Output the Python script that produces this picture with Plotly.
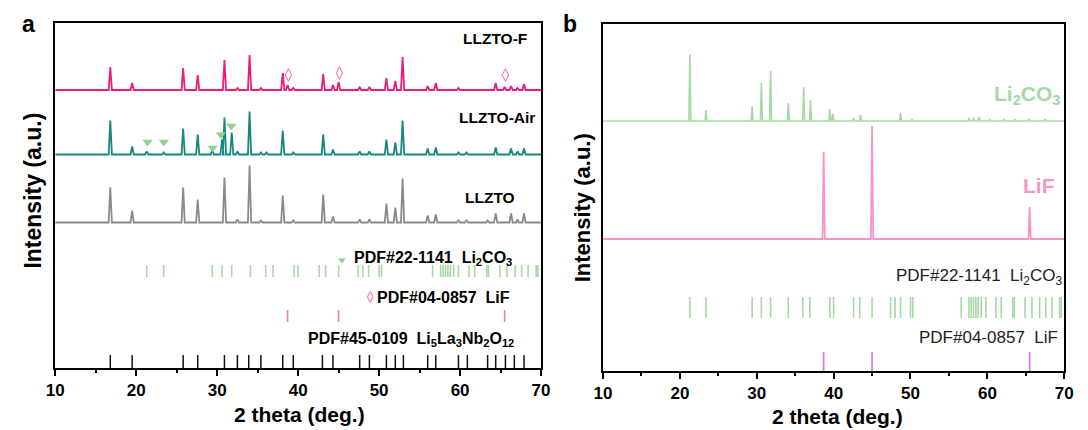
import plotly.graph_objects as go

W, H = 1088, 430
FONT = "Arial, Liberation Sans, sans-serif"

# ---------------- Panel a data ----------------
llzto_f_pos = [16.8, 19.5, 25.8, 27.6, 30.9, 32.5, 34.0, 35.4, 38.1, 38.7, 39.4, 43.1, 44.3, 45.0,
               47.6, 48.8, 50.9, 52.0, 52.9, 56.0, 57.0, 59.8, 64.4, 65.5, 66.3, 67.1, 67.9]
llzto_f_int = [23, 7, 22, 15, 30, 2, 35, 2, 17, 5, 2, 16, 5, 8,
               3, 3, 12, 9, 33, 4, 7, 2, 7, 3, 4, 2, 6]

llzto_air_pos = [16.8, 19.5, 21.3, 23.4, 25.8, 27.6, 29.4, 30.6, 30.9, 31.8, 32.5, 34.0, 35.4, 36.1,
                 38.1, 39.4, 43.1, 44.3, 47.6, 48.8, 50.9, 52.0, 52.9, 56.0, 57.0, 59.8, 60.8,
                 64.4, 66.3, 67.1, 67.9]
llzto_air_int = [34, 8, 3, 2, 26, 20, 5, 15, 37, 22, 3, 43, 2, 2,
                 24, 2, 20, 5, 3, 3, 15, 12, 34, 6, 7, 2, 2,
                 7, 6, 3, 6]

llzto_pos = [16.8, 19.5, 25.8, 27.6, 30.9, 32.5, 34.0, 35.4, 38.1, 39.4, 43.1, 44.3, 47.6, 48.8,
             50.9, 52.0, 52.9, 56.0, 57.0, 59.8, 60.8, 63.4, 64.4, 66.3, 67.1, 67.9]
llzto_int = [35, 12, 35, 23, 45, 3, 57, 2, 27, 2, 28, 6, 3, 3,
             19, 15, 44, 7, 8, 2, 2, 2, 9, 9, 3, 9]

# Li2CO3 impurity peaks marked in LLZTO-Air, LiF peaks marked in LLZTO-F
air_marker_pos = [21.4, 23.4, 29.45, 30.45, 31.75]
air_marker_h = [12.5, 12.5, 6.5, 20, 28.5]
f_marker_pos = [38.8, 45.1, 65.6]
f_marker_h = [15, 17, 15]

# Reference cards
li2co3_ref = [21.3, 23.4, 29.4, 30.6, 31.8, 34.1, 36.0, 36.9, 39.5, 40.0, 42.6, 43.4, 45.0,
              47.4, 48.0, 48.7, 50.0, 50.3, 56.6, 57.6, 57.9, 58.2, 58.5, 58.8, 59.2, 59.8,
              61.1, 61.8, 63.3, 63.5, 64.9, 65.8, 66.8, 67.6, 68.4, 69.4, 69.6]
lif_ref = [38.7, 45.0, 65.5]
garnet_ref = [16.8, 19.5, 25.8, 27.6, 30.9, 32.5, 33.9, 35.4, 38.1, 39.4, 43.0, 44.3, 47.6,
              48.8, 50.9, 52.0, 53.0, 56.0, 57.0, 59.8, 60.9, 63.4, 64.4, 65.6, 66.7, 67.9]

# ---------------- Panel b data ----------------
li2co3_pos = [21.3, 23.4, 29.4, 30.6, 31.8, 34.1, 36.1, 37.0, 39.5, 39.9, 42.6, 43.5, 48.7, 50.2,
              57.6, 58.2, 58.9, 60.3, 62.2, 63.6, 65.4, 67.5]
li2co3_int = [67, 11, 15, 38, 50, 18, 34, 21, 12, 7, 3, 6, 8, 2,
              3, 3, 4, 2, 2, 2, 2, 2]
lif_pos = [38.7, 45.0, 65.5]
lif_int = [87, 113, 32]

x_ticks = [10, 20, 30, 40, 50, 60, 70]


# ---------------- helpers ----------------
def px(x):
    return x / W


def py(y):
    return 1 - y / H


def profile(pos, inten, base, hw):
    xs, ys = [10], [base]
    for p, h in sorted(zip(pos, inten)):
        xs += [p - hw, p, p + hw]
        ys += [base, base + h, base]
    xs.append(70)
    ys.append(base)
    return xs, ys


def sticks(pos, y0, y1):
    xs, ys = [], []
    for p in pos:
        xs += [p, p, None]
        ys += [y0, y1, None]
    return xs, ys


fig = go.Figure()

C_F = "#EF1A7C"
C_AIR = "#17877F"
C_GRAY = "#8A8A8A"
C_GREEN = "#A6DAA4"
C_GREEN_M = "#93D193"
C_PINK = "#F07DB5"
C_PINK_B = "#F497C7"
C_VIOLET = "#E27BDD"

BASE_F, BASE_AIR, BASE_L = 278, 213.5, 145.5

for pos, inten, base, col in [(llzto_f_pos, llzto_f_int, BASE_F, C_F),
                              (llzto_air_pos, llzto_air_int, BASE_AIR, C_AIR),
                              (llzto_pos, llzto_int, BASE_L, C_GRAY)]:
    xs, ys = profile(pos, inten, base, 0.2)
    fig.add_trace(go.Scatter(x=xs, y=ys, mode="lines", line=dict(color=col, width=1.8),
                             xaxis="x", yaxis="y", showlegend=False, hoverinfo="skip"))

fig.add_trace(go.Scatter(x=air_marker_pos, y=[BASE_AIR + h for h in air_marker_h], mode="markers",
                         marker=dict(symbol="triangle-down", size=9, color=C_GREEN_M),
                         xaxis="x", yaxis="y", showlegend=False))
fig.add_trace(go.Scatter(x=f_marker_pos, y=[BASE_F + h for h in f_marker_h], mode="markers",
                         marker=dict(symbol="diamond-tall-open", size=9, color=C_PINK,
                                     line=dict(width=1.1, color=C_PINK)),
                         xaxis="x", yaxis="y", showlegend=False))
fig.add_trace(go.Scatter(x=[45.4], y=[108], mode="markers",
                         marker=dict(symbol="triangle-down", size=7, color=C_GREEN_M),
                         xaxis="x", yaxis="y", showlegend=False))
fig.add_trace(go.Scatter(x=[48.9], y=[71], mode="markers",
                         marker=dict(symbol="diamond-tall-open", size=8, color=C_PINK,
                                     line=dict(width=1.1, color=C_PINK)),
                         xaxis="x", yaxis="y", showlegend=False))

for pos, y0, y1, col, w in [(li2co3_ref, 91, 103, C_GREEN, 1.6),
                            (lif_ref, 46, 58, C_PINK, 1.6),
                            (garnet_ref, 0, 13, "#111111", 1.5)]:
    xs, ys = sticks(pos, y0, y1)
    fig.add_trace(go.Scatter(x=xs, y=ys, mode="lines", line=dict(color=col, width=w),
                             xaxis="x", yaxis="y", showlegend=False, hoverinfo="skip"))

BASE_LC, BASE_LIF = 250, 132
xs, ys = profile(li2co3_pos, li2co3_int, BASE_LC, 0.13)
fig.add_trace(go.Scatter(x=xs, y=ys, mode="lines", line=dict(color=C_GREEN, width=1.6),
                         xaxis="x2", yaxis="y2", showlegend=False, hoverinfo="skip"))
xs, ys = profile(lif_pos, lif_int, BASE_LIF, 0.15)
fig.add_trace(go.Scatter(x=xs, y=ys, mode="lines", line=dict(color=C_PINK_B, width=1.8),
                         xaxis="x2", yaxis="y2", showlegend=False, hoverinfo="skip"))
for pos, y0, y1, col, w in [(li2co3_ref, 53, 74, C_GREEN, 1.6),
                            (lif_ref, 0, 19, C_VIOLET, 1.8)]:
    xs, ys = sticks(pos, y0, y1)
    fig.add_trace(go.Scatter(x=xs, y=ys, mode="lines", line=dict(color=col, width=w),
                             xaxis="x2", yaxis="y2", showlegend=False, hoverinfo="skip"))


def xax(domain, anchor):
    return dict(domain=domain, anchor=anchor, range=[10, 70], tickvals=x_ticks,
                showline=True, linecolor="black", linewidth=2, mirror=True,
                ticks="outside", ticklen=6, tickwidth=1.8, tickcolor="black",
                minor=dict(dtick=5, tick0=10, ticks="outside", ticklen=3, tickwidth=1.5,
                           tickcolor="black", showgrid=False),
                showgrid=False, zeroline=False,
                tickfont=dict(family=FONT, size=17, color="black", weight="bold"))


def yax(domain, anchor, top):
    return dict(domain=domain, anchor=anchor, range=[0, top], showline=True, linecolor="black",
                linewidth=2, mirror=True, ticks="", showticklabels=False, showgrid=False,
                zeroline=False)


fig.update_layout(
    width=W, height=H, margin=dict(l=0, r=0, t=0, b=0),
    paper_bgcolor="white", plot_bgcolor="white",
    xaxis=xax([px(47), px(541)], "y"),
    yaxis=yax([py(368), py(23)], "x", 345),
    xaxis2=xax([px(604), px(1073)], "y2"),
    yaxis2=yax([py(371), py(24)], "x2", 347),
)

ann = []


def t(text, x, y, xref, yref, size, color="black", bold=True, xanchor="right", angle=0, xshift=0):
    ann.append(dict(text=text, x=x, y=y, xref=xref, yref=yref, showarrow=False,
                    xanchor=xanchor, yanchor="middle", textangle=angle, xshift=xshift,
                    font=dict(family=FONT, size=size, color=color,
                              weight="bold" if bold else "normal")))


t("LLZTO-F", 68.5, 330, "x", "y", 15.5)
t("LLZTO-Air", 69.5, 251, "x", "y", 15.5)
t("LLZTO", 67.0, 171, "x", "y", 15.5)
t("PDF#22-1141  Li<sub>2</sub>CO<sub>3</sub>", 66.6, 110, "x", "y", 16)
t("PDF#04-0857  LiF", 66.4, 71, "x", "y", 16)
t("PDF#45-0109  Li<sub>5</sub>La<sub>3</sub>Nb<sub>2</sub>O<sub>12</sub>", 66.9, 29, "x", "y", 16)

t("Li<sub>2</sub>CO<sub>3</sub>", 69.9, 276, "x2", "y2", 21, color=C_GREEN)
t("LiF", 69.1, 186, "x2", "y2", 21, color=C_PINK_B)
t("PDF#22-1141  Li<sub>2</sub>CO<sub>3</sub>", 69.6, 94, "x2", "y2", 17, bold=False,
  color="#222222", xshift=3)
t("PDF#04-0857  LiF", 69.4, 34, "x2", "y2", 17, bold=False, color="#222222")

t("2 theta (deg.)", px(295), py(414), "paper", "paper", 21, xanchor="center")
t("2 theta (deg.)", px(842), py(416), "paper", "paper", 21, xanchor="center")
t("Intensity (a.u.)", px(24), py(191), "paper", "paper", 23, xanchor="center", angle=-90)
t("Intensity (a.u.)", px(583), py(208), "paper", "paper", 22, xanchor="center", angle=-90)
t("a", px(20), py(24), "paper", "paper", 23, xanchor="center")
t("b", px(570), py(24), "paper", "paper", 23, xanchor="center")

fig.update_layout(annotations=ann)
fig.write_html("out.html", config={"displayModeBar": False},
               post_script="document.body.style.margin='0';")
